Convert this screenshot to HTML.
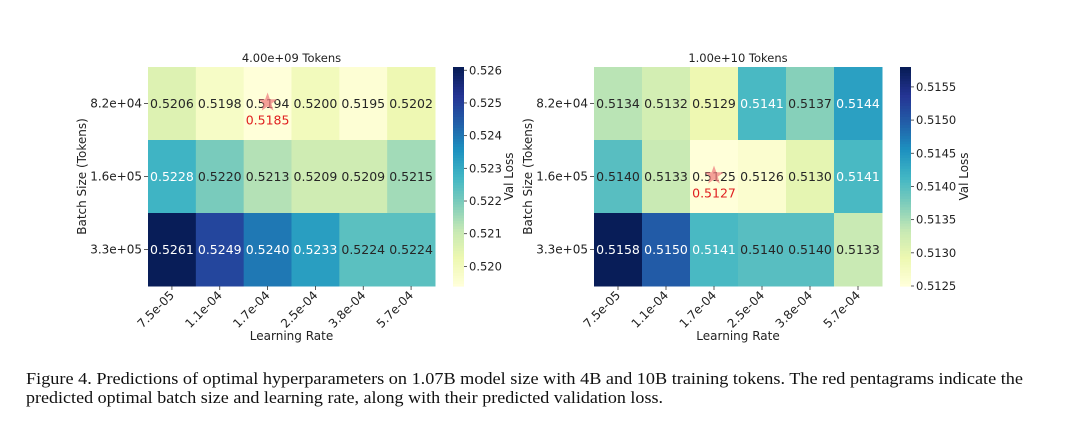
<!DOCTYPE html>
<html><head><meta charset="utf-8"><style>
html,body{margin:0;padding:0;background:#fff;}
svg{display:block;}
</style></head><body>
<svg id="fig" width="1080" height="429" viewBox="0 0 1080 429" xmlns="http://www.w3.org/2000/svg" font-family="'DejaVu Sans', sans-serif">
<rect width="1080" height="429" fill="#fff"/>
<g id="left"></g>
<g id="right"></g>
<text x="26" y="384" font-family="'Liberation Serif', serif" font-size="16.5" fill="#111" textLength="997" lengthAdjust="spacingAndGlyphs">Figure 4. Predictions of optimal hyperparameters on 1.07B model size with 4B and 10B training tokens. The red pentagrams indicate the</text>
<text x="26" y="403" font-family="'Liberation Serif', serif" font-size="16.5" fill="#111" textLength="637" lengthAdjust="spacingAndGlyphs">predicted optimal batch size and learning rate, along with their predicted validation loss.</text>
</svg>
<script>
const learningRates = ["7.5e-05","1.1e-04","1.7e-04","2.5e-04","3.8e-04","5.7e-04"];
const batchSizes = ["8.2e+04","1.6e+05","3.3e+05"];
const lossLeft = [
  [0.5206,0.5198,0.5194,0.5200,0.5195,0.5202],
  [0.5228,0.5220,0.5213,0.5209,0.5209,0.5215],
  [0.5261,0.5249,0.5240,0.5233,0.5224,0.5224]];
const lossRight = [
  [0.5134,0.5132,0.5129,0.5141,0.5137,0.5144],
  [0.5140,0.5133,0.5125,0.5126,0.5130,0.5141],
  [0.5158,0.5150,0.5141,0.5140,0.5140,0.5133]];
const ticksLeft = [0.520,0.521,0.522,0.523,0.524,0.525,0.526];
const ticksRight = [0.5125,0.5130,0.5135,0.5140,0.5145,0.5150,0.5155];
const titles = ["4.00e+09 Tokens","1.00e+10 Tokens"];
const optLeft = {row:0,col:2,value:"0.5185"};
const optRight = {row:1,col:2,value:"0.5127"};

const NS="http://www.w3.org/2000/svg";
const stops=["#ffffd9","#edf8b1","#c7e9b4","#7fcdbb","#41b6c4","#1d91c0","#225ea8","#253494","#081d58"];
function hex(h){return [1,3,5].map(i=>parseInt(h.substr(i,2),16));}
function cmap(t){t=Math.max(0,Math.min(1,t));const p=t*8,i=Math.min(7,Math.floor(p)),f=p-i;const a=hex(stops[i]),b=hex(stops[i+1]);return a.map((v,k)=>Math.round(v+(b[k]-v)*f));}
function lum(c){const l=c.map(v=>{v/=255;return v<=0.03928?v/12.92:Math.pow((v+0.055)/1.055,2.4);});return 0.2126*l[0]+0.7152*l[1]+0.0722*l[2];}
function el(tag,attrs,parent,text){const e=document.createElementNS(NS,tag);for(const k in attrs)e.setAttribute(k,attrs[k]);if(text!==undefined)e.textContent=text;parent.appendChild(e);return e;}
function star(cx,cy,R){let p=[];for(let i=0;i<10;i++){const r=i%2?R*0.4:R;const a=-Math.PI/2+i*Math.PI/5;p.push((cx+r*Math.cos(a)).toFixed(1)+","+(cy+r*Math.sin(a)).toFixed(1));}return p.join(" ");}

function draw(g,data,ticks,title,opt,X0,X1,CB0,CBW,decimals,vlabelX){
  const Y0=67,Y1=286;
  const flat=data.flat();const vmin=Math.min(...flat),vmax=Math.max(...flat);
  const cw=(X1-X0)/learningRates.length, ch=(Y1-Y0)/batchSizes.length;
  const xPos=j=>X0+j*cw, yPos=i=>Y0+i*ch;
  const norm=v=>(v-vmin)/(vmax-vmin);
  const cbY=v=>Y1-(v-vmin)/(vmax-vmin)*(Y1-Y0);
  data.forEach((row,i)=>row.forEach((v,j)=>{
    const c=cmap(norm(v));
    const r=el('rect',{x:xPos(j),y:yPos(i),width:cw+0.5,height:ch+0.5,fill:`rgb(${c})`},g);
    
    
    const t=el('text',{x:xPos(j)+cw/2,y:yPos(i)+ch/2+4.5,'text-anchor':'middle','font-size':'12.5',fill:lum(c)<0.408?'#fff':'#262626'},g,v.toFixed(4));
    
    
  }));
  const sx=xPos(opt.col)+cw/2, sy=yPos(opt.row)+ch/2;
  const s=el('polygon',{points:star(sx,sy-1,10),fill:'#f08080','fill-opacity':'0.75'},g);
  
  
  const st=el('text',{x:sx,y:sy+21,'text-anchor':'middle','font-size':'12.5',fill:'#e02020'},g,opt.value);
  
  
  const tt=el('text',{x:(X0+X1)/2,y:62,'text-anchor':'middle','font-size':'11.5',fill:'#222'},g,title);
  
  
  batchSizes.forEach((b,i)=>{
    const y=yPos(i)+ch/2;
    const tk=el('line',{x1:X0-4,x2:X0,y1:y,y2:y,stroke:'#333','stroke-width':'0.8'},g);
    
    
    const t=el('text',{x:X0-6,y:y+4,'text-anchor':'end','font-size':'12',fill:'#222'},g,b);
    
    
  });
  learningRates.forEach((l,j)=>{
    const x=xPos(j)+cw/2;
    const tk=el('line',{x1:x,x2:x,y1:Y1,y2:Y1+4,stroke:'#333','stroke-width':'0.8'},g);
    
    
    const t=el('text',{x:x+3,y:Y1+10,'text-anchor':'end','font-size':'12',fill:'#222',transform:`rotate(-45 ${x+3} ${Y1+10})`},g,l);
    
    
  });
  const xl=el('text',{x:(X0+X1)/2,y:340,'text-anchor':'middle','font-size':'12',fill:'#222'},g,'Learning Rate');
  
  
  const yl=el('text',{x:0,y:0,'text-anchor':'middle','font-size':'12',fill:'#222',transform:`translate(${X0-62} ${(Y0+Y1)/2}) rotate(-90)`},g,'Batch Size (Tokens)');
  
  
  const N=80;
  for(let k=0;k<N;k++){
    const v0=vmin+(vmax-vmin)*k/N, v1=vmin+(vmax-vmin)*(k+1)/N;
    const c=cmap(k/(N-1));
    const r=el('rect',{x:CB0,y:cbY(v1),width:CBW,height:cbY(v0)-cbY(v1)+0.6,fill:`rgb(${c})`},g);
    
    
  }
  ticks.forEach(v=>{
    const y=cbY(v);
    const tk=el('line',{x1:CB0+CBW,x2:CB0+CBW+3,y1:y,y2:y,stroke:'#333','stroke-width':'0.8'},g);
    
    
    const t=el('text',{x:CB0+CBW+5,y:y+4,'font-size':'11.5',fill:'#222'},g,v.toFixed(decimals));
    
    
  });
  const vl=el('text',{x:0,y:0,'text-anchor':'middle','font-size':'12',fill:'#222',transform:`translate(${vlabelX} ${(Y0+Y1)/2}) rotate(-90)`},g,'Val Loss');
  
  
}
draw(document.getElementById('left'),lossLeft,ticksLeft,titles[0],optLeft,148,435,453,11,3,513);
draw(document.getElementById('right'),lossRight,ticksRight,titles[1],optRight,594,882,900,11,4,968);
</script>
</body></html>
